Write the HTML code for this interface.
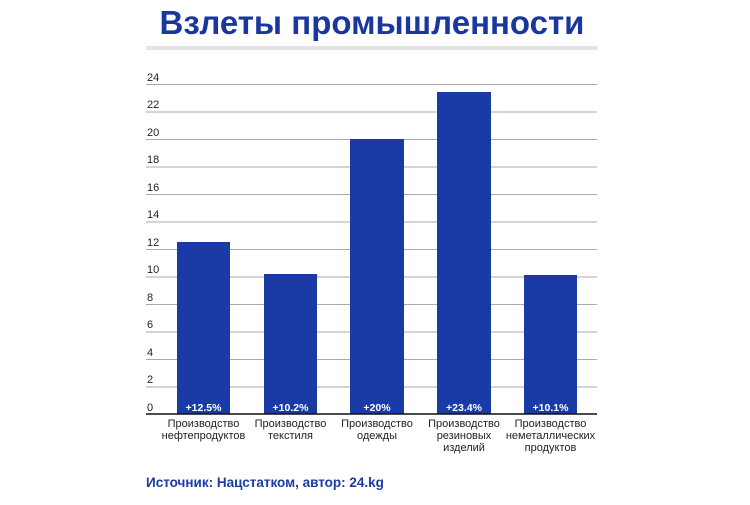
<!DOCTYPE html>
<html><head><meta charset="utf-8"><style>
body{margin:0;background:#fff;width:750px;height:500px;overflow:hidden;font-family:"Liberation Sans",sans-serif;}
</style></head><body>
<svg width="750" height="500" xmlns="http://www.w3.org/2000/svg" font-family="Liberation Sans, sans-serif">
<text x="372" y="34" text-anchor="middle" font-size="33" font-weight="bold" fill="#1a37a0">Взлеты промышленности</text>
<rect x="146" y="46" width="451" height="4" fill="#e4e4e4"/>
<g stroke="#aaa" stroke-width="1">
<line x1="146" x2="597" y1="84.5" y2="84.5"/><line x1="146" x2="597" y1="112" y2="112"/>
<line x1="146" x2="597" y1="139.5" y2="139.5"/><line x1="146" x2="597" y1="167" y2="167"/>
<line x1="146" x2="597" y1="194.5" y2="194.5"/><line x1="146" x2="597" y1="222" y2="222"/>
<line x1="146" x2="597" y1="249.5" y2="249.5"/><line x1="146" x2="597" y1="277" y2="277"/>
<line x1="146" x2="597" y1="304.5" y2="304.5"/><line x1="146" x2="597" y1="332" y2="332"/>
<line x1="146" x2="597" y1="359.5" y2="359.5"/><line x1="146" x2="597" y1="387" y2="387"/>
</g>
<g font-size="11" fill="#222">
<text x="147" y="81">24</text><text x="147" y="108">22</text><text x="147" y="136">20</text>
<text x="147" y="163">18</text><text x="147" y="191">16</text><text x="147" y="218">14</text>
<text x="147" y="246">12</text><text x="147" y="273">10</text><text x="147" y="301">8</text>
<text x="147" y="328">6</text><text x="147" y="356">4</text><text x="147" y="383">2</text>
<text x="147" y="411">0</text>
</g>
<g fill="#1a3aa6">
<rect x="177" y="242" width="53" height="172"/>
<rect x="264" y="274" width="53" height="140"/>
<rect x="350" y="139" width="54" height="275"/>
<rect x="437" y="92" width="54" height="322"/>
<rect x="524" y="275" width="53" height="139"/>
</g>
<line x1="146" x2="597" y1="414" y2="414" stroke="#111" stroke-width="1.5"/>
<g font-size="10.5" font-weight="bold" fill="#fff" text-anchor="middle">
<text x="203.5" y="411">+12.5%</text><text x="290.5" y="411">+10.2%</text>
<text x="377" y="411">+20%</text><text x="464" y="411">+23.4%</text><text x="550.5" y="411">+10.1%</text>
</g>
<g font-size="11" fill="#222" text-anchor="middle">
<text x="203.5" y="427">Производство</text><text x="203.5" y="439">нефтепродуктов</text>
<text x="290.5" y="427">Производство</text><text x="290.5" y="439">текстиля</text>
<text x="377" y="427">Производство</text><text x="377" y="439">одежды</text>
<text x="464" y="427">Производство</text><text x="464" y="439">резиновых</text><text x="464" y="451">изделий</text>
<text x="550.5" y="427">Производство</text><text x="550.5" y="439">неметаллических</text><text x="550.5" y="451">продуктов</text>
</g>
<text x="146" y="487" font-size="13.5" font-weight="bold" fill="#1a3aa6">Источник: Нацстатком, автор: 24.kg</text>
</svg>
</body></html>
